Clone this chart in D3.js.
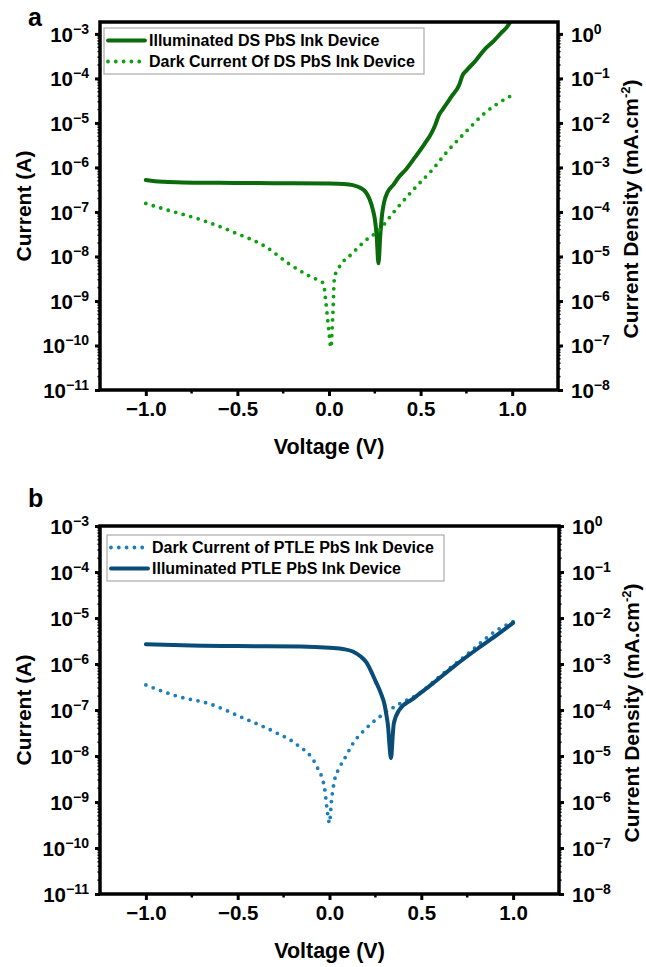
<!DOCTYPE html>
<html>
<head>
<meta charset="utf-8">
<script src="https://cdn.jsdelivr.net/npm/d3@7"></script>
<style>
  body { margin: 0; background: #fff; }
  svg { font-family: "Liberation Sans", Arial, sans-serif; font-weight: bold; }
</style>
</head>
<body>
<div class="C"></div>
<script>
// panel a : DS PbS ink device
var dsIllumV = [-1.0,-0.95,-0.9,-0.8,-0.6,-0.4,-0.2,0.0,0.08,0.13,0.17,0.2,0.22,0.24,0.25,0.26,0.27,0.28,0.29,0.3,0.32,0.35,0.38,0.42,0.47,0.52,0.56,0.58,0.6,0.62,0.67,0.71,0.73,0.75,0.8,0.85,0.9,0.94,0.97,1.0];
var dsIllumI = [5.2e-7,4.9e-7,4.75e-7,4.6e-7,4.5e-7,4.45e-7,4.4e-7,4.35e-7,4.25e-7,4.0e-7,3.5e-7,2.8e-7,2.0e-7,1.1e-7,7e-8,3e-8,7e-9,3e-8,9e-8,1.6e-7,2.8e-7,4e-7,6e-7,9e-7,1.7e-6,3.3e-6,6e-6,9e-6,1.5e-5,2e-5,4e-5,7e-5,1.2e-4,1.5e-4,2.5e-4,4.5e-4,7e-4,1.05e-3,1.4e-3,2.2e-3];
var dsDarkV = [-1.0,-0.88,-0.7,-0.52,-0.34,-0.22,-0.11,-0.05,-0.03,-0.02,-0.01,0.0,0.01,0.02,0.03,0.054,0.125,0.2,0.27,0.36,0.47,0.56,0.65,0.74,0.85,0.98,1.0];
var dsDarkI = [1.55e-7,1.1e-7,6.7e-8,3.5e-8,1.6e-8,6.9e-9,3.7e-9,2.8e-9,2.5e-9,1.2e-9,5e-10,2e-10,9e-11,4e-10,3.4e-9,5.6e-9,1.15e-8,2.3e-8,3.8e-8,1.07e-7,3.5e-7,8.5e-7,2.4e-6,5.9e-6,1.66e-5,3.8e-5,4.2e-5];

// panel b : PTLE PbS ink device
var ptleIllumV = [-1.0,-0.8,-0.5,-0.16,0.0,0.08,0.13,0.17,0.2,0.23,0.25,0.28,0.3,0.31,0.32,0.325,0.335,0.345,0.35,0.38,0.45,0.56,0.68,0.81,0.92,1.0];
var ptleIllumI = [2.7e-6,2.55e-6,2.45e-6,2.4e-6,2.25e-6,2.1e-6,1.85e-6,1.45e-6,1.1e-6,6.5e-7,4.3e-7,2.3e-7,1.3e-7,7.8e-8,4e-8,2.1e-8,9e-9,3e-8,5e-8,1e-7,1.7e-7,3.7e-7,9e-7,2.2e-6,4.5e-6,7.8e-6];
var ptleDarkV = [-1.0,-0.83,-0.65,-0.47,-0.29,-0.18,-0.07,-0.027,-0.01,0.0,0.01,0.027,0.054,0.09,0.125,0.2,0.29,0.38,0.49,0.59,0.74,0.92,1.0];
var ptleDarkI = [3.5e-7,2e-7,1.35e-7,6.7e-8,3.2e-8,1.8e-8,6e-9,2e-9,5.5e-10,3.5e-10,1e-9,2.9e-9,5.5e-9,1e-8,1.8e-8,4e-8,8e-8,1.35e-7,2.3e-7,5e-7,1.5e-6,5.7e-6,8.3e-6];

var xTicks = [-1.0, -0.5, 0.0, 0.5, 1.0];
var xMinor = [-0.75, -0.25, 0.25, 0.75];
var leftExp = [-11,-10,-9,-8,-7,-6,-5,-4,-3];
var rightExp = [-8,-7,-6,-5,-4,-3,-2,-1,0];

var svg = d3.select('.C').append('svg').attr('width', 646).attr('height', 967);

function zip(v, c) {
    return v.map(function (d, i) { return {v: d, i: c[i]}; });
}

function drawPanel(p) {
    var g = svg.append('g');
    var x = d3.scaleLinear().domain([-1.25, 1.25]).range([p.left, p.right]);
    var y = d3.scaleLog().domain([1e-11, p.yMax]).range([p.bottom, p.top]);
    var y2 = d3.scaleLog().domain([1e-8, p.yMax * 1000]).range([p.bottom, p.top]);

    g.append('clipPath').attr('id', 'clip' + p.id).append('rect')
        .attr('x', p.left).attr('y', p.top).attr('width', p.right - p.left).attr('height', p.bottom - p.top);

    var line = d3.line().x(function (d) { return x(d.v); }).y(function (d) { return y(d.i); }).curve(d3.curveMonotoneX);

    p.series.forEach(function (s) {
        g.append('path').datum(zip(s.v, s.i))
            .attr('clip-path', 'url(#clip' + p.id + ')')
            .attr('d', line)
            .attr('fill', 'none')
            .attr('stroke', s.color)
            .attr('stroke-width', s.dotted ? 3.8 : 4)
            .attr('stroke-linecap', 'round')
            .attr('stroke-linejoin', 'round')
            .attr('stroke-dasharray', s.dotted ? '0,7.8' : null);
    });

    // axes
    var ax = g.append('g').attr('transform', 'translate(0,' + p.bottom + ')')
        .call(d3.axisBottom(x).tickValues(xTicks).tickSize(6).tickPadding(5));
    ax.selectAll('.tick text').text(function (d) { return d3.format('.1f')(d).replace('-', '\u2212'); });
    ax.append('g').selectAll('line').data(xMinor).enter().append('line')
        .attr('x1', x).attr('x2', x).attr('y1', 0).attr('y2', 3.5).attr('stroke', '#000').attr('stroke-width', 2.5);

    var leftVals = leftExp.map(function (e) { return Math.pow(10, e); });
    var rightVals = rightExp.map(function (e) { return Math.pow(10, e); });
    var ay = g.append('g').attr('transform', 'translate(' + p.left + ',0)')
        .call(d3.axisLeft(y).tickValues(leftVals).tickSize(5).tickFormat(''));
    var ay2 = g.append('g').attr('transform', 'translate(' + p.right + ',0)')
        .call(d3.axisRight(y2).tickValues(rightVals).tickSize(5).tickFormat(''));
    ay.selectAll('.tick text').remove();
    ay2.selectAll('.tick text').remove();

    // minor log ticks
    var minorL = [], minorR = [];
    leftExp.forEach(function (e) { for (var k = 2; k < 10; k++) { var m = k * Math.pow(10, e); if (m <= p.yMax) minorL.push(m); } });
    rightExp.forEach(function (e) { for (var k = 2; k < 10; k++) { var m = k * Math.pow(10, e); if (m <= p.yMax * 1000) minorR.push(m); } });
    ay.append('g').selectAll('line').data(minorL).enter().append('line')
        .attr('x1', 0).attr('x2', -2.5).attr('y1', y).attr('y2', y).attr('stroke', '#000').attr('stroke-width', 1.5);
    ay2.append('g').selectAll('line').data(minorR).enter().append('line')
        .attr('x1', 0).attr('x2', 2.5).attr('y1', y2).attr('y2', y2).attr('stroke', '#000').attr('stroke-width', 1.5);

    ay.selectAll('.tick').each(function (d, i) {
        var e = leftExp[i];
        var t = d3.select(this).append('text').attr('x', -11).attr('dy', '0.36em').attr('text-anchor', 'end').attr('fill', '#000');
        t.append('tspan').text('10');
        t.append('tspan').attr('class', 'sup').attr('dy', -8).text('\u2212' + Math.abs(e));
    });
    ay2.selectAll('.tick').each(function (d, i) {
        var e = rightExp[i];
        var t = d3.select(this).append('text').attr('x', 13).attr('dy', '0.36em').attr('text-anchor', 'start').attr('fill', '#000');
        t.append('tspan').text('10');
        t.append('tspan').attr('class', 'sup').attr('dy', -8).text(e === 0 ? '0' : '\u2212' + Math.abs(e));
    });

    [ax, ay, ay2].forEach(function (a) {
        a.selectAll('.domain').remove();
        a.selectAll('.tick line').attr('stroke-width', 3);
        a.selectAll('text').style('font-size', '20.5px').style('font-weight', 'bold').style('font-family', '"Liberation Sans", Arial, sans-serif');
        a.selectAll('tspan.sup').style('font-size', '14px');
    });

    // frame
    g.append('rect').attr('x', p.left).attr('y', p.top)
        .attr('width', p.right - p.left).attr('height', p.bottom - p.top)
        .attr('fill', 'none').attr('stroke', '#000').attr('stroke-width', 3.5);

    // legend
    var lg = g.append('g');
    lg.append('rect').attr('x', p.legX).attr('y', p.legY).attr('width', p.legW).attr('height', 46)
        .attr('fill', '#fff').attr('stroke', '#aaa').attr('stroke-width', 1.2);
    p.series.forEach(function (s, i) {
        var yy = p.legY + 12.5 + i * 21;
        lg.append('line').attr('x1', p.legX + 4).attr('x2', p.legX + 41).attr('y1', yy).attr('y2', yy)
            .attr('stroke', s.color).attr('stroke-width', 3.8).attr('stroke-linecap', 'round')
            .attr('stroke-dasharray', s.dotted ? '0,7.8' : null);
        lg.append('text').attr('x', p.legX + 45).attr('y', yy).attr('dy', '0.36em')
            .style('font-size', '16px').text(s.name);
    });

    // titles
    g.append('text').attr('x', 28).attr('y', p.labelY).style('font-size', '25px').text(p.label);
    g.append('text').attr('transform', 'translate(31,' + ((p.top + p.bottom) / 2) + ') rotate(-90)')
        .attr('text-anchor', 'middle').style('font-size', '21px').text('Current (A)');
    var rt = g.append('text').attr('transform', 'translate(' + (p.right + 80) + ',' + ((p.top + p.bottom) / 2 + 3) + ') rotate(-90)')
        .attr('text-anchor', 'middle').style('font-size', '21px');
    rt.append('tspan').text('Current Density (mA.cm');
    rt.append('tspan').attr('dy', -8).style('font-size', '13px').text('-2');
    rt.append('tspan').attr('dy', 8).text(')');
    g.append('text').attr('x', (p.left + p.right) / 2).attr('y', p.bottom + 64)
        .attr('text-anchor', 'middle').style('font-size', '21.5px').text('Voltage (V)');
}

drawPanel({
    id: 'a', label: 'a', labelY: 26, left: 100, right: 558, top: 22, bottom: 390, yMax: 1.85e-3,
    legX: 104, legY: 28, legW: 320,
    series: [
        {name: 'Illuminated DS PbS Ink Device', v: dsIllumV, i: dsIllumI, color: '#0b6a0b', dotted: false},
        {name: 'Dark Current Of DS PbS Ink Device', v: dsDarkV, i: dsDarkI, color: '#0ba10b', dotted: true}
    ]
});

drawPanel({
    id: 'b', label: 'b', labelY: 507, left: 100, right: 559, top: 526, bottom: 894, yMax: 1e-3,
    legX: 107, legY: 535, legW: 337,
    series: [
        {name: 'Dark Current of PTLE PbS Ink Device', v: ptleDarkV, i: ptleDarkI, color: '#1a7dbf', dotted: true},
        {name: 'Illuminated PTLE PbS Ink Device', v: ptleIllumV, i: ptleIllumI, color: '#0a4c78', dotted: false}
    ]
});
</script>
</body>
</html>
